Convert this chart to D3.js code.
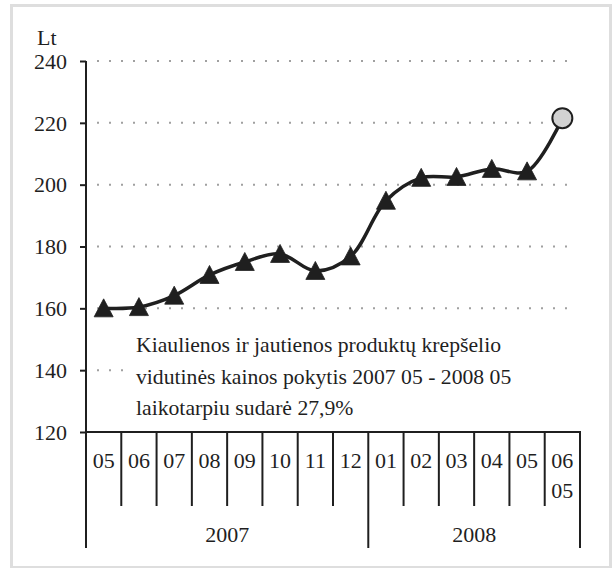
<!DOCTYPE html>
<html>
<head>
<meta charset="utf-8">
<script src="https://cdn.jsdelivr.net/npm/d3@7"></script>
<style>
  html, body { margin: 0; padding: 0; background: #fff; }
  svg { display: block; }
</style>
</head>
<body>
<svg id="chart" width="613" height="568"></svg>
<script>
// ---- data ----
const categories = ["2007-05","2007-06","2007-07","2007-08","2007-09","2007-10","2007-11","2007-12",
                    "2008-01","2008-02","2008-03","2008-04","2008-05","2008-06"];
const monthLabels = ["05","06","07","08","09","10","11","12","01","02","03","04","05","06"];
const extraLabels = ["","","","","","","","","","","","","","05"];
const values = [160.0, 160.4, 164.1, 170.8, 175.0, 177.6, 172.1, 176.8, 194.8, 202.2, 202.5, 205.1, 204.3, 221.5];
const years = ["2007", "2008"];
const yearCounts = [8, 6];
const yTicks = [120, 140, 160, 180, 200, 220, 240];
const unitLabel = "Lt";
const noteLines = ["Kiaulienos ir jautienos produktų krepšelio",
                   "vidutinės kainos pokytis 2007 05 - 2008 05",
                   "laikotarpiu sudarė 27,9%"];

// ---- layout ----
const FONT = "'Liberation Serif', 'DejaVu Serif', 'Times New Roman', serif";
const svg = d3.select("#chart");
const pLeft = 86, pRight = 580, pTop = 61, pBottom = 432;
const x = d3.scaleBand().domain(categories).range([pLeft, pRight]).padding(0);
const y = d3.scaleLinear().domain([120, 240]).range([pBottom, pTop]);
const ink = "#1f1f1f";
const fs = 22;

const T = sel => sel.style("font-family", FONT).attr("fill", ink);

// frame
svg.append("rect").attr("x", 11.5).attr("y", 5.5).attr("width", 599).attr("height", 562)
  .attr("fill", "none").attr("stroke", "#dedede").attr("stroke-width", 3);

// dotted grid
svg.append("g").selectAll("line").data(yTicks.filter(d => d > 120)).join("line")
  .attr("x1", 97).attr("x2", 575)
  .attr("y1", d => y(d)).attr("y2", d => y(d))
  .attr("stroke", "#a0a0a0").attr("stroke-width", 2).attr("stroke-dasharray", "2,10");

// note background + text
svg.append("rect").attr("x", 128).attr("y", 323).attr("width", 445).attr("height", 100).attr("fill", "#fff");
const note = svg.append("text").attr("x", 136).attr("y", 352).attr("font-size", 21.7).call(T);
noteLines.forEach((t, i) => note.append("tspan").attr("x", 136).attr("dy", i === 0 ? 0 : 31.5).text(t));

// y axis
const yAxis = d3.axisLeft(y).tickValues(yTicks).tickSize(6).tickPadding(13).tickFormat(d3.format("d"));
const gy = svg.append("g").attr("transform", `translate(${pLeft},0)`).call(yAxis);
gy.select(".domain").remove();
gy.selectAll("line").attr("stroke", ink).attr("stroke-width", 2);
gy.selectAll("text").attr("font-size", fs).attr("dy", "0.33em").call(T);
svg.append("line").attr("x1", pLeft).attr("x2", pLeft).attr("y1", pTop).attr("y2", 548)
  .attr("stroke", ink).attr("stroke-width", 2);
svg.append("text").attr("x", 37).attr("y", 45).attr("font-size", fs).text(unitLabel).call(T);

// x axis line
svg.append("line").attr("x1", pLeft).attr("x2", pRight).attr("y1", pBottom).attr("y2", pBottom)
  .attr("stroke", ink).attr("stroke-width", 2);
svg.append("line").attr("x1", pRight).attr("x2", pRight).attr("y1", pBottom - 1).attr("y2", 548)
  .attr("stroke", ink).attr("stroke-width", 2);

// month dividers
const yearStart = [0, yearCounts[0]];
const dividerIdx = d3.range(1, categories.length).filter(i => !yearStart.includes(i));
svg.append("g").selectAll("line").data(dividerIdx).join("line")
  .attr("x1", i => x(categories[i])).attr("x2", i => x(categories[i]))
  .attr("y1", pBottom).attr("y2", 506)
  .attr("stroke", ink).attr("stroke-width", 2);
// year divider
svg.append("line").attr("x1", x(categories[yearCounts[0]])).attr("x2", x(categories[yearCounts[0]]))
  .attr("y1", pBottom).attr("y2", 548).attr("stroke", ink).attr("stroke-width", 2);

// month labels
svg.append("g").selectAll("text").data(categories).join("text")
  .attr("x", d => x(d) + x.bandwidth() / 2).attr("y", 468)
  .attr("text-anchor", "middle").attr("font-size", fs)
  .text((d, i) => monthLabels[i]).call(T);
svg.append("g").selectAll("text").data(categories.filter((d, i) => extraLabels[i])).join("text")
  .attr("x", d => x(d) + x.bandwidth() / 2).attr("y", 498)
  .attr("text-anchor", "middle").attr("font-size", fs)
  .text(d => extraLabels[categories.indexOf(d)]).call(T);

// year labels
let acc = 0;
years.forEach((yr, k) => {
  const a = x(categories[acc]);
  const b = acc + yearCounts[k] < categories.length ? x(categories[acc + yearCounts[k]]) : pRight;
  svg.append("text").attr("x", (a + b) / 2).attr("y", 542).attr("text-anchor", "middle")
    .attr("font-size", fs).text(yr).call(T);
  acc += yearCounts[k];
});

// line
const pts = categories.map((c, i) => ({ c, v: values[i] }));
const line = d3.line().x(d => x(d.c) + x.bandwidth() / 2).y(d => y(d.v)).curve(d3.curveCatmullRom.alpha(0.5));
svg.append("path").datum(pts).attr("d", line).attr("fill", "none")
  .attr("stroke", ink).attr("stroke-width", 3.5).attr("stroke-linejoin", "round");

// triangle markers
svg.append("g").selectAll("path").data(pts.slice(0, -1)).join("path")
  .attr("transform", d => `translate(${x(d.c) + x.bandwidth() / 2},${y(d.v)})`)
  .attr("d", "M0,-9.5 L9.5,8.5 L-9.5,8.5 Z")
  .attr("fill", ink).attr("stroke", ink).attr("stroke-width", 0.8).attr("stroke-linejoin", "round");

// last point circle
const last = pts[pts.length - 1];
svg.append("circle").attr("cx", x(last.c) + x.bandwidth() / 2).attr("cy", y(last.v)).attr("r", 10)
  .attr("fill", "#d2d2d2").attr("stroke", ink).attr("stroke-width", 2);
</script>
</body>
</html>
